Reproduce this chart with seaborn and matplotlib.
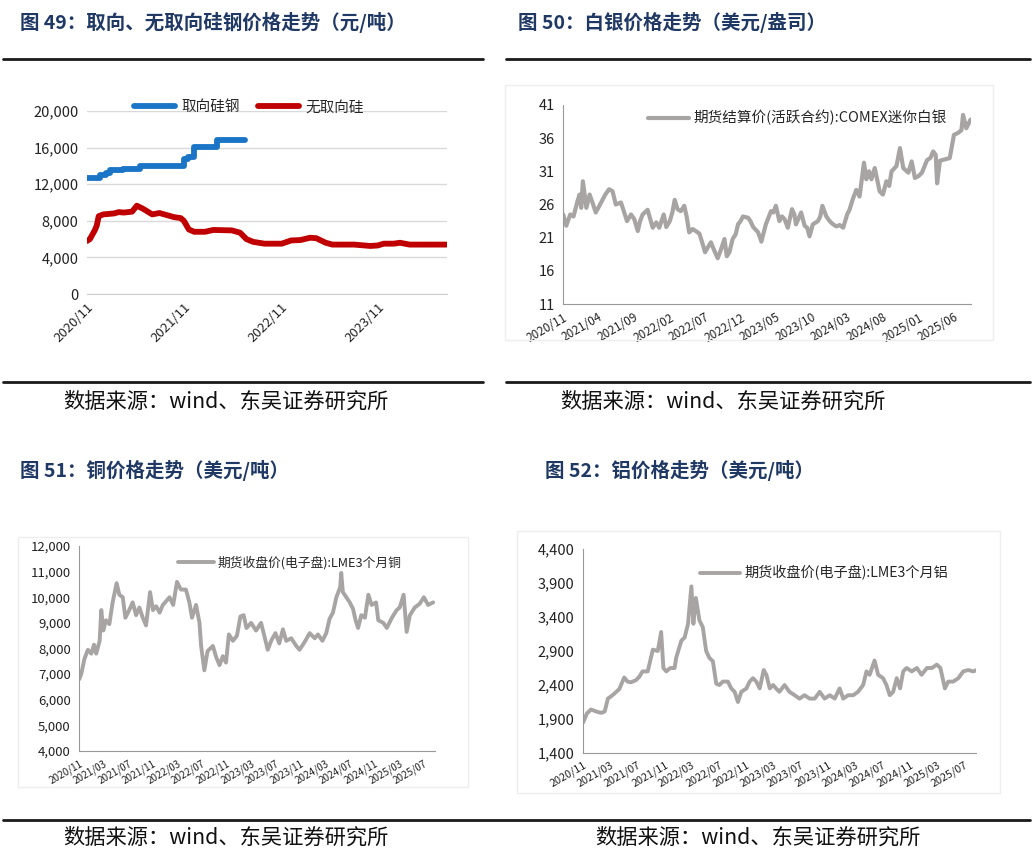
import pandas as pd
import numpy as np
import matplotlib.pyplot as plt
import matplotlib.dates as mdates
from matplotlib.lines import Line2D
from matplotlib.patches import Rectangle
from matplotlib.ticker import FuncFormatter
import seaborn as sns

sns.set_style('white')
plt.rcParams['font.family'] = ['Noto Sans CJK SC', 'DejaVu Sans']
plt.rcParams['axes.unicode_minus'] = False

## DATA
# 图49 取向 / 无取向硅钢 (元/吨)
gos_dates = ['2020-11-01', '2020-12-20', '2021-01-10', '2021-01-25', '2021-03-15', '2021-05-20',
             '2021-11-01', '2021-11-15', '2021-12-10', '2022-03-05', '2022-06-20']
gos_vals = [12700, 13000, 13200, 13500, 13700, 14000, 14700, 15000, 16100, 16800, 16800]

ngo_dates = ['2020-11-01', '2020-11-12', '2020-12-01', '2020-12-08', '2020-12-15', '2021-01-01',
             '2021-02-10', '2021-03-01', '2021-03-20', '2021-04-20', '2021-05-08', '2021-06-01',
             '2021-07-05', '2021-08-01', '2021-09-01', '2021-09-25', '2021-10-20', '2021-11-01',
             '2021-11-20', '2021-12-10', '2022-01-20', '2022-02-20', '2022-05-01', '2022-06-01',
             '2022-06-25', '2022-07-20', '2022-09-01', '2022-11-05', '2022-12-10', '2023-01-15',
             '2023-02-20', '2023-03-15', '2023-04-20', '2023-05-15', '2023-07-01', '2023-08-05',
             '2023-10-05', '2023-11-01', '2023-11-25', '2024-01-01', '2024-01-25', '2024-03-01',
             '2024-05-01', '2024-07-18']
ngo_vals = [5800, 6000, 7000, 7500, 8500, 8700,
            8800, 8950, 8900, 9000, 9650, 9300,
            8700, 8850, 8600, 8400, 8300, 8000,
            7050, 6800, 6800, 7000, 6950, 6700,
            6000, 5700, 5500, 5500, 5850, 5900,
            6150, 6100, 5600, 5400, 5400, 5400,
            5250, 5300, 5500, 5500, 5600, 5400,
            5400, 5400]

# 图50 白银 (美元/盎司)
silver_dates = ['2020-11-02', '2020-11-15', '2020-12-02', '2020-12-16', '2021-01-02', '2021-01-11',
                '2021-01-18', '2021-01-25', '2021-02-09', '2021-02-23', '2021-03-08', '2021-03-21',
                '2021-04-01', '2021-04-16', '2021-05-01', '2021-05-17', '2021-06-01', '2021-06-15',
                '2021-07-07', '2021-07-21', '2021-08-02', '2021-08-19', '2021-09-02', '2021-09-17',
                '2021-09-27', '2021-10-08', '2021-10-29', '2021-11-20', '2021-12-05', '2021-12-18',
                '2022-01-06', '2022-01-17', '2022-02-01', '2022-02-12', '2022-02-22', '2022-03-06',
                '2022-03-20', '2022-04-04', '2022-04-14', '2022-04-25', '2022-05-10', '2022-05-23',
                '2022-06-08', '2022-06-22', '2022-07-02', '2022-07-13', '2022-07-27', '2022-08-11',
                '2022-08-25', '2022-09-09', '2022-09-23', '2022-10-03', '2022-10-14', '2022-10-28',
                '2022-11-10', '2022-11-20', '2022-12-01', '2022-12-11', '2023-01-02', '2023-01-12',
                '2023-01-24', '2023-02-14', '2023-02-28', '2023-03-08', '2023-03-19', '2023-04-10',
                '2023-04-20', '2023-05-01', '2023-05-16', '2023-05-27', '2023-06-07', '2023-06-21',
                '2023-07-09', '2023-07-19', '2023-07-26', '2023-08-17', '2023-09-01', '2023-09-12',
                '2023-09-22', '2023-10-06', '2023-10-28', '2023-11-07', '2023-11-16', '2023-12-03',
                '2023-12-17', '2024-01-01', '2024-01-15', '2024-01-29', '2024-02-13', '2024-03-01',
                '2024-03-11', '2024-03-25', '2024-04-09', '2024-04-23', '2024-05-12', '2024-05-22',
                '2024-06-03', '2024-06-13', '2024-06-27', '2024-07-18', '2024-08-01', '2024-08-16',
                '2024-08-28', '2024-09-07', '2024-09-28', '2024-10-13', '2024-10-27', '2024-11-18',
                '2024-12-02', '2024-12-16', '2025-01-01', '2025-01-15', '2025-02-06', '2025-02-20',
                '2025-03-04', '2025-03-15', '2025-03-21', '2025-04-02', '2025-04-23', '2025-05-14',
                '2025-06-01', '2025-06-19', '2025-07-03', '2025-07-10', '2025-07-24', '2025-08-11']
silver_vals = [24.5, 22.8, 24.5, 24.2, 26.5, 27.5,
               25.5, 29.5, 25.5, 27.5, 26.2, 24.8,
               25.5, 26.5, 27.5, 28.3, 28.0, 26.0,
               26.3, 24.8, 23.5, 24.5, 23.8, 22.0,
               23.5, 24.5, 25.2, 22.5, 23.3, 22.5,
               24.5, 22.6, 23.5, 24.8, 26.7, 25.3,
               25.0, 25.8, 24.2, 21.8, 22.3, 22.0,
               21.6, 20.0, 18.8, 19.5, 20.3, 19.0,
               17.9, 19.3, 20.8, 18.2, 18.8, 20.8,
               21.5, 23.0, 23.5, 24.2, 24.0, 23.5,
               22.6, 21.8, 20.4, 21.5, 23.0, 25.0,
               24.8, 25.8, 23.5, 24.2, 23.8, 22.5,
               25.3, 24.5, 23.0, 24.8, 22.8, 22.5,
               21.2, 23.0, 23.5, 24.2, 25.8, 24.2,
               23.5, 23.0, 22.7, 22.9, 22.5, 24.5,
               25.2, 26.8, 28.2, 27.2, 32.3, 29.8,
               31.0, 29.8, 31.5, 28.0, 27.5, 29.5,
               28.8, 31.0, 31.8, 34.5, 31.5, 30.8,
               32.5, 30.0, 30.3, 30.8, 32.7, 33.0,
               34.0, 33.5, 29.2, 32.6, 32.8, 33.0,
               36.5, 36.8, 37.2, 39.5, 37.5, 38.8]

# 图51 铜 (美元/吨)
copper_dates = ['2020-11-02', '2020-11-12', '2020-11-28', '2020-12-15', '2021-01-01', '2021-01-14',
                '2021-01-25', '2021-02-11', '2021-02-19', '2021-03-01', '2021-03-14', '2021-03-31',
                '2021-04-16', '2021-05-06', '2021-05-19', '2021-06-05', '2021-06-18', '2021-07-07',
                '2021-07-24', '2021-08-10', '2021-08-26', '2021-09-12', '2021-09-28', '2021-10-18',
                '2021-11-01', '2021-11-17', '2021-12-04', '2021-12-20', '2022-01-06', '2022-01-22',
                '2022-02-09', '2022-02-28', '2022-03-19', '2022-04-13', '2022-04-30', '2022-05-13',
                '2022-06-02', '2022-06-19', '2022-06-27', '2022-07-13', '2022-07-29', '2022-08-24',
                '2022-09-10', '2022-09-26', '2022-10-12', '2022-10-28', '2022-11-11', '2022-12-01',
                '2022-12-21', '2023-01-07', '2023-01-23', '2023-02-06', '2023-03-01', '2023-03-25',
                '2023-04-19', '2023-05-05', '2023-05-22', '2023-06-08', '2023-06-29', '2023-07-18',
                '2023-08-05', '2023-08-21', '2023-09-15', '2023-10-10', '2023-10-26', '2023-11-20',
                '2023-12-15', '2024-01-09', '2024-01-25', '2024-02-16', '2024-03-06', '2024-03-22',
                '2024-04-08', '2024-04-25', '2024-05-14', '2024-05-19', '2024-05-27', '2024-06-13',
                '2024-06-30', '2024-07-16', '2024-07-29', '2024-08-10', '2024-08-26', '2024-09-13',
                '2024-09-30', '2024-10-16', '2024-11-07', '2024-11-18', '2024-12-13', '2024-12-30',
                '2025-01-24', '2025-02-17', '2025-03-04', '2025-03-23', '2025-04-07', '2025-04-23',
                '2025-05-17', '2025-06-11', '2025-07-01', '2025-07-22', '2025-08-16']
copper_vals = [6800, 7000, 7600, 7950, 7800, 8150,
               7800, 8300, 9500, 8700, 9100, 8950,
               9800, 10550, 10100, 10000, 9200, 9500,
               9800, 9300, 9600, 9200, 8900, 10200,
               9500, 9650, 9400, 9700, 9850, 10000,
               9700, 10600, 10300, 10300, 9800, 9200,
               9700, 9000, 8100, 7150, 7900, 8100,
               7650, 7350, 7700, 7450, 8550, 8300,
               8500, 9250, 9300, 8800, 9000, 8700,
               9000, 8500, 7950, 8300, 8600, 8200,
               8750, 8300, 8400, 8100, 7950, 8250,
               8600, 8400, 8550, 8300, 8600, 9150,
               9400, 10000, 10400, 10950, 10200, 10000,
               9800, 9550, 9100, 8800, 9300, 9200,
               10100, 9700, 9800, 9100, 9000, 8800,
               9200, 9500, 9600, 10100, 8650, 9300,
               9600, 9750, 10000, 9700, 9800]

# 图52 铝 (美元/吨)
alu_dates = ['2020-11-02', '2020-11-18', '2020-12-07', '2020-12-30', '2021-01-21', '2021-02-06',
             '2021-02-20', '2021-03-05', '2021-03-20', '2021-04-12', '2021-05-04', '2021-05-19',
             '2021-06-03', '2021-06-25', '2021-07-10', '2021-07-25', '2021-08-17', '2021-09-09',
             '2021-10-01', '2021-10-16', '2021-10-26', '2021-11-08', '2021-11-26', '2021-12-15',
             '2021-12-22', '2022-01-14', '2022-01-29', '2022-02-13', '2022-02-28', '2022-03-09',
             '2022-03-20', '2022-04-05', '2022-04-20', '2022-05-05', '2022-05-19', '2022-06-04',
             '2022-06-19', '2022-07-03', '2022-07-18', '2022-08-10', '2022-08-25', '2022-09-09',
             '2022-09-24', '2022-10-09', '2022-11-01', '2022-11-15', '2022-11-30', '2022-12-15',
             '2022-12-30', '2023-01-17', '2023-01-29', '2023-02-13', '2023-02-28', '2023-03-13',
             '2023-03-28', '2023-04-20', '2023-05-12', '2023-06-04', '2023-06-26', '2023-07-18',
             '2023-08-10', '2023-09-02', '2023-09-24', '2023-10-16', '2023-11-08', '2023-11-30',
             '2023-12-22', '2024-01-07', '2024-01-29', '2024-02-21', '2024-03-13', '2024-04-05',
             '2024-04-20', '2024-05-04', '2024-05-26', '2024-06-11', '2024-07-03', '2024-07-18',
             '2024-08-02', '2024-08-17', '2024-09-02', '2024-09-17', '2024-10-01', '2024-10-16',
             '2024-11-08', '2024-12-01', '2024-12-22', '2025-01-15', '2025-02-06', '2025-02-28',
             '2025-03-16', '2025-04-05', '2025-04-20', '2025-05-12', '2025-06-04', '2025-06-26',
             '2025-07-18', '2025-08-10', '2025-08-25']
alu_vals = [1850, 1980, 2040, 2010, 1990, 2010,
            2200, 2230, 2270, 2340, 2510, 2450,
            2440, 2470, 2520, 2600, 2600, 2920,
            2900, 3180, 2650, 2600, 2650, 2650,
            2800, 3050, 3100, 3300, 3850, 3300,
            3680, 3350, 3250, 2900, 2800, 2750,
            2420, 2400, 2450, 2450, 2350, 2300,
            2150, 2300, 2350, 2450, 2500, 2450,
            2350, 2620, 2550, 2350, 2400, 2350,
            2300, 2400, 2300, 2250, 2200, 2250,
            2200, 2200, 2300, 2200, 2250, 2200,
            2350, 2200, 2250, 2250, 2300, 2400,
            2600, 2550, 2760, 2550, 2500, 2400,
            2250, 2300, 2500, 2350, 2600, 2650,
            2600, 2650, 2550, 2650, 2650, 2700,
            2650, 2350, 2450, 2450, 2500, 2600,
            2620, 2600, 2620]

titles = ['图 49：取向、无取向硅钢价格走势（元/吨）', '图 50：白银价格走势（美元/盎司）',
          '图 51：铜价格走势（美元/吨）', '图 52：铝价格走势（美元/吨）']
source = '数据来源：wind、东吴证券研究所'
gray = '#a8a4a4'
navy = '#1f3864'

fig = plt.figure(figsize=(10.32, 8.64), dpi=100)


def fx(px):
    return px / 1032


def fy(py):
    return 1 - py / 864


def axes_px(left, right, top, bottom):
    return fig.add_axes([fx(left), fy(bottom), fx(right - left), (bottom - top) / 864])


def style_ts(ax, ticks, xlim, ylim, ystep, fmt, xfs, yfs, rot):
    ax.set_xlim(pd.Timestamp(xlim[0]), pd.Timestamp(xlim[1]))
    ax.set_ylim(*ylim)
    ax.set_yticks(np.arange(ylim[0], ylim[1] + ystep / 2, ystep))
    ax.yaxis.set_major_formatter(FuncFormatter(fmt))
    ax.set_xticks(pd.to_datetime(ticks))
    ax.xaxis.set_major_formatter(mdates.DateFormatter('%Y/%m'))
    for lab in ax.get_xticklabels():
        lab.set_rotation(rot)
        lab.set_ha('right')
        lab.set_rotation_mode('anchor')
        lab.set_fontsize(xfs)
        lab.set_color('#222222')
    ax.tick_params(axis='y', length=0, labelsize=yfs, labelcolor='#222222', pad=6)
    ax.tick_params(axis='x', length=3, width=0.8, color='#999999', direction='out', pad=2)
    ax.set_xlabel('')
    ax.set_ylabel('')
    ax.grid(False)


comma = lambda v, p: f'{v:,.0f}'

# ---- 图49
ax1 = axes_px(87, 447, 111, 294)
df_gos = pd.DataFrame({'date': pd.to_datetime(gos_dates), 'val': gos_vals})
df_ngo = pd.DataFrame({'date': pd.to_datetime(ngo_dates), 'val': ngo_vals})
sns.lineplot(data=df_gos, x='date', y='val', color='#1a75c7', lw=4.2,
             drawstyle='steps-post', label='取向硅钢', ax=ax1, solid_capstyle='round')
sns.lineplot(data=df_ngo, x='date', y='val', color='#c00000', lw=4.2,
             label='无取向硅', ax=ax1, solid_capstyle='round')
style_ts(ax1, ['2020-11-01', '2021-11-01', '2022-11-01', '2023-11-01'],
         ('2020-11-01', '2024-07-20'), (0, 20000), 4000, comma, 9.5, 10.5, 45)
ax1.yaxis.grid(True, color='#d9d9d9', lw=1)
for s in ['top', 'right', 'left']:
    ax1.spines[s].set_visible(False)
ax1.spines['bottom'].set_color('#d0d0d0')
ax1.legend(loc='center', bbox_to_anchor=(0.45, 1.02), ncol=2, frameon=False, fontsize=10.5,
           handlelength=2.8, columnspacing=1.3, handletextpad=0.4, borderaxespad=0, borderpad=0)

# ---- 图50
ax2 = axes_px(563, 971, 105, 304)
df_ag = pd.DataFrame({'date': pd.to_datetime(silver_dates), 'val': silver_vals})
sns.lineplot(data=df_ag, x='date', y='val', color=gray, lw=3.0,
             label='期货结算价(活跃合约):COMEX迷你白银', ax=ax2)
style_ts(ax2, pd.date_range('2020-11-01', '2025-06-01', freq='5MS'),
         ('2020-11-01', '2025-08-13'), (11, 41), 5, lambda v, p: f'{v:.0f}', 8.5, 10.5, 30)
for s in ['top', 'right']:
    ax2.spines[s].set_visible(False)
for s in ['left', 'bottom']:
    ax2.spines[s].set_color('#999999')
ax2.legend(loc='center left', bbox_to_anchor=(0.208, 0.935), frameon=False, fontsize=10.5,
           handlelength=2.8, handletextpad=0.3, borderaxespad=0, borderpad=0)

# ---- 图51
ax3 = axes_px(79, 435, 546, 751)
df_cu = pd.DataFrame({'date': pd.to_datetime(copper_dates), 'val': copper_vals})
sns.lineplot(data=df_cu, x='date', y='val', color=gray, lw=2.8,
             label='期货收盘价(电子盘):LME3个月铜', ax=ax3)
style_ts(ax3, pd.date_range('2020-11-01', '2025-07-01', freq='4MS'),
         ('2020-11-01', '2025-08-25'), (4000, 12000), 1000, comma, 7.2, 9.5, 30)
for s in ['top', 'right']:
    ax3.spines[s].set_visible(False)
for s in ['left', 'bottom']:
    ax3.spines[s].set_color('#999999')
ax3.legend(loc='center left', bbox_to_anchor=(0.278, 0.917), frameon=False, fontsize=9.2,
           handlelength=2.8, handletextpad=0.3, borderaxespad=0, borderpad=0)

# ---- 图52
ax4 = axes_px(583, 976, 549, 753)
df_al = pd.DataFrame({'date': pd.to_datetime(alu_dates), 'val': alu_vals})
sns.lineplot(data=df_al, x='date', y='val', color=gray, lw=2.8,
             label='期货收盘价(电子盘):LME3个月铝', ax=ax4)
style_ts(ax4, pd.date_range('2020-11-01', '2025-07-01', freq='4MS'),
         ('2020-11-01', '2025-08-22'), (1400, 4400), 500, comma, 7.8, 10.5, 30)
for s in ['top', 'right']:
    ax4.spines[s].set_visible(False)
for s in ['left', 'bottom']:
    ax4.spines[s].set_color('#999999')
ax4.legend(loc='center left', bbox_to_anchor=(0.298, 0.882), frameon=False, fontsize=10.2,
           handlelength=2.8, handletextpad=0.3, borderaxespad=0, borderpad=0)

# ---- 标题、分隔线、来源
for t, (x, y) in zip(titles, [(20, 22), (518, 22), (20, 470), (545, 470)]):
    fig.text(fx(x), fy(y), t, fontsize=14, fontweight='bold', color=navy, va='center', ha='left')

for x0, x1, y in [(3, 483, 59), (506, 1030, 59), (3, 483, 382), (506, 1030, 382), (3, 1030, 820)]:
    fig.add_artist(Line2D([fx(x0), fx(x1)], [fy(y), fy(y)], color='#1a1a1a', lw=2))

for x, y in [(63, 402), (560, 402), (63, 838), (595, 838)]:
    fig.text(fx(x), fy(y), source, fontsize=15.3, color='#111111', va='center', ha='left')

for l, r, t, b in [(505, 993, 85, 340), (18, 468, 537, 787), (517, 1000, 531, 793)]:
    fig.add_artist(Rectangle((fx(l), fy(b)), fx(r - l), (b - t) / 864, fill=False,
                             edgecolor='#eeeeee', lw=1, transform=fig.transFigure))

plt.savefig('out.png', dpi=100)
